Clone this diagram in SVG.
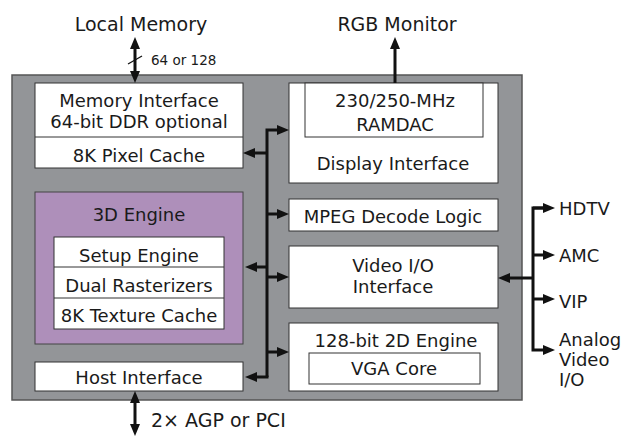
<svg xmlns="http://www.w3.org/2000/svg" width="624" height="437" viewBox="0 0 624 437">
<style>
text{font-family:"DejaVu Sans","Liberation Sans",sans-serif;fill:#1a1a1a}
.t{font-size:18px;text-anchor:middle}
.l{font-size:19px}
.r{font-size:18px}
.s{font-size:13.5px}
.box{fill:#fff;stroke:#333;stroke-width:1}
.c{fill:none;stroke:#111;stroke-width:3}
</style>
<defs>
<marker id="ah" viewBox="0 0 12 10" refX="6" refY="5" markerWidth="12" markerHeight="10" markerUnits="userSpaceOnUse" orient="auto-start-reverse">
<path d="M0,0 L12,5 L0,10 z" fill="#111"/>
</marker>
</defs>
<rect x="12" y="75" width="510" height="325" fill="#939598" stroke="#555" stroke-width="1.5"/>

<g id="memory-interface">
<rect class="box" x="35" y="83" width="208" height="85"/>
<line x1="35" y1="137" x2="243" y2="137" stroke="#333"/>
<text class="t" x="139" y="107">Memory Interface</text>
<text class="t" x="139" y="128">64-bit DDR optional</text>
<text class="t" x="139" y="162">8K Pixel Cache</text>
</g>

<g id="engine-3d">
<rect x="35" y="192" width="208" height="152" fill="#ae8fba" stroke="#444" stroke-width="1"/>
<text class="t" x="139" y="221">3D Engine</text>
<rect class="box" x="54" y="237" width="170" height="92"/>
<line x1="54" y1="267" x2="224" y2="267" stroke="#333"/>
<line x1="54" y1="298" x2="224" y2="298" stroke="#333"/>
<text class="t" x="139" y="262">Setup Engine</text>
<text class="t" x="139" y="292">Dual Rasterizers</text>
<text class="t" x="139" y="322">8K Texture Cache</text>
</g>

<g id="host-interface">
<rect class="box" x="35" y="362" width="208" height="29"/>
<text class="t" x="139" y="384">Host Interface</text>
</g>

<g id="display-interface">
<rect class="box" x="289" y="83" width="209" height="100"/>
<rect class="box" x="305" y="83" width="178" height="54"/>
<text class="t" x="395" y="107">230/250-MHz</text>
<text class="t" x="395" y="131">RAMDAC</text>
<text class="t" x="393" y="170">Display Interface</text>
</g>

<g id="mpeg">
<rect class="box" x="289" y="199" width="209" height="32"/>
<text class="t" x="393" y="223">MPEG Decode Logic</text>
</g>

<g id="video-io">
<rect class="box" x="289" y="246" width="209" height="62"/>
<text class="t" x="393" y="272">Video I/O</text>
<text class="t" x="393" y="293">Interface</text>
</g>

<g id="engine-2d">
<rect class="box" x="289" y="323" width="209" height="68"/>
<rect class="box" x="309" y="353" width="171" height="31"/>
<text class="t" x="396" y="347">128-bit 2D Engine</text>
<text class="t" x="394" y="375">VGA Core</text>
</g>

<g id="connectors">
<line class="c" x1="135" y1="43" x2="135" y2="77" marker-start="url(#ah)" marker-end="url(#ah)"/>
<line x1="128" y1="64" x2="142" y2="56" stroke="#111" stroke-width="1.2"/>
<line class="c" x1="395" y1="83" x2="395" y2="43" marker-end="url(#ah)"/>
<line class="c" x1="135" y1="397" x2="135" y2="430" marker-start="url(#ah)" marker-end="url(#ah)"/>
<polyline class="c" points="267,377 267,130 283,130" marker-end="url(#ah)"/>
<line class="c" x1="267" y1="153" x2="249" y2="153" marker-end="url(#ah)"/>
<line class="c" x1="267" y1="214" x2="283" y2="214" marker-end="url(#ah)"/>
<line class="c" x1="267" y1="267" x2="251" y2="267" marker-end="url(#ah)"/>
<line class="c" x1="267" y1="277" x2="283" y2="277" marker-end="url(#ah)"/>
<line class="c" x1="267" y1="352" x2="283" y2="352" marker-end="url(#ah)"/>
<line class="c" x1="268.5" y1="377" x2="251" y2="377" marker-end="url(#ah)"/>
<line class="c" x1="533" y1="278" x2="504" y2="278" marker-end="url(#ah)"/>
<polyline class="c" points="549,208 533,208 533,350 549,350" marker-end="url(#ah)"/>
<line class="c" x1="533" y1="255" x2="549" y2="255" marker-end="url(#ah)"/>
<line class="c" x1="533" y1="299" x2="549" y2="299" marker-end="url(#ah)"/>
<line class="c" x1="533" y1="208" x2="549" y2="208" marker-end="url(#ah)"/>
</g>

<g id="labels">
<text class="l" x="141" y="31" text-anchor="middle">Local Memory</text>
<text class="s" x="151" y="65">64 or 128</text>
<text class="l" x="397" y="31" text-anchor="middle">RGB Monitor</text>
<text class="l" x="151" y="427">2× AGP or PCI</text>
<text class="r" x="559" y="215">HDTV</text>
<text class="r" x="559" y="262">AMC</text>
<text class="r" x="559" y="308">VIP</text>
<text class="r" x="559" y="346">Analog</text>
<text class="r" x="559" y="366">Video</text>
<text class="r" x="559" y="386">I/O</text>
</g>
</svg>
